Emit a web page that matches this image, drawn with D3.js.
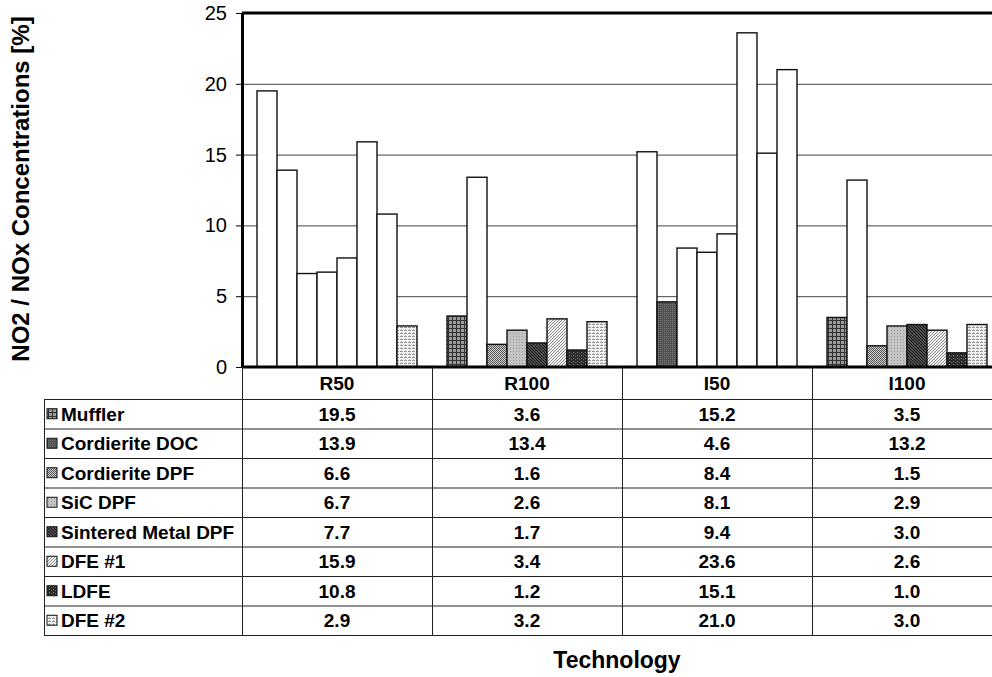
<!DOCTYPE html>
<html>
<head>
<meta charset="utf-8">
<script src="https://cdn.jsdelivr.net/npm/d3@7"></script>
<style>
  body { margin: 0; background: #fff; }
  svg { display: block; font-family: "Liberation Sans", Arial, sans-serif; }
</style>
</head>
<body>
<svg id="chart" width="992" height="677"></svg>
<script>
// Technology groups on the x axis
var categories = ['R50', 'R100', 'I50', 'I100'];
// Series (one bar per series inside each group)
var seriesNames = ['Muffler', 'Cordierite DOC', 'Cordierite DPF', 'SiC DPF',
  'Sintered Metal DPF', 'DFE #1', 'LDFE', 'DFE #2'];
// Values per series, in the order of categories
var muffler = [19.5, 3.6, 15.2, 3.5];
var cordieriteDoc = [13.9, 13.4, 4.6, 13.2];
var cordieriteDpf = [6.6, 1.6, 8.4, 1.5];
var sicDpf = [6.7, 2.6, 8.1, 2.9];
var sinteredDpf = [7.7, 1.7, 9.4, 3.0];
var dfe1 = [15.9, 3.4, 23.6, 2.6];
var ldfe = [10.8, 1.2, 15.1, 1.0];
var dfe2 = [2.9, 3.2, 21.0, 3.0];
var seriesValues = [muffler, cordieriteDoc, cordieriteDpf, sicDpf, sinteredDpf, dfe1, ldfe, dfe2];
var yTicks = [0, 5, 10, 15, 20, 25];

var svg = d3.select('#chart');
var defs = svg.append('defs');

// Fill patterns, one per series (Excel style)
function makePattern(id, w, h, bg, draw) {
  var p = defs.append('pattern').attr('id', id)
    .attr('patternUnits', 'userSpaceOnUse')
    .attr('width', w).attr('height', h);
  p.append('rect').attr('width', w).attr('height', h).attr('fill', bg);
  draw(p);
}
makePattern('p0', 4, 4, '#9a9a9a', function(p) {
  p.append('rect').attr('width', 4).attr('height', 1).attr('fill', '#333');
  p.append('rect').attr('width', 1).attr('height', 4).attr('fill', '#333');
});
makePattern('p1', 2, 2, '#505050', function(p) {
  p.append('rect').attr('width', 1).attr('height', 1).attr('fill', '#7a7a7a');
});
makePattern('p2', 2, 2, '#d0d0d0', function(p) {
  p.append('rect').attr('width', 1).attr('height', 1).attr('fill', '#555');
  p.append('rect').attr('x', 1).attr('y', 1).attr('width', 1).attr('height', 1).attr('fill', '#555');
});
makePattern('p3', 3, 3, '#c4c4c4', function(p) {
  p.append('rect').attr('width', 1).attr('height', 1).attr('fill', '#9a9a9a');
});
makePattern('p4', 3, 3, '#6a6a6a', function(p) {
  p.append('path').attr('d', 'M0,0L3,3M-1,2L1,4M2,-1L4,1').attr('stroke', '#111').attr('stroke-width', 1.2);
});
makePattern('p5', 3, 3, '#f4f4f4', function(p) {
  p.append('path').attr('d', 'M0,3L3,0M-1,1L1,-1M2,4L4,2').attr('stroke', '#8a8a8a').attr('stroke-width', 1);
});
makePattern('p6', 4, 3, '#2a2a2a', function(p) {
  p.append('rect').attr('x', 1).attr('y', 1).attr('width', 1).attr('height', 1).attr('fill', '#888');
  p.append('rect').attr('x', 3).attr('y', 2).attr('width', 1).attr('height', 1).attr('fill', '#666');
});
makePattern('p7', 4, 3, '#f2f2f2', function(p) {
  p.append('rect').attr('width', 3).attr('height', 1).attr('fill', '#999');
  p.append('rect').attr('x', 1).attr('y', 2).attr('width', 1).attr('height', 1).attr('fill', '#bbb');
});

var plot = { left: 242, right: 1002, top: 13, bottom: 367 };

var x = d3.scaleBand().domain(categories).range([plot.left, plot.right]);
var xBar = d3.scaleBand().domain(seriesNames).range([0, x.bandwidth()])
  .paddingInner(0).paddingOuter(0.75);
var y = d3.scaleLinear().domain([0, 25]).range([plot.bottom, plot.top]);

// Gridlines
svg.append('g').selectAll('line').data(yTicks.filter(function(t) { return t > 0 && t < 25; }))
  .enter().append('line')
  .attr('x1', plot.left).attr('x2', plot.right)
  .attr('y1', function(d) { return y(d) + 0.5; }).attr('y2', function(d) { return y(d) + 0.5; })
  .attr('stroke', '#444').attr('stroke-width', 1);

// Bars; tall bars were rendered hollow in the original
var bars = [];
seriesValues.forEach(function(vals, si) {
  vals.forEach(function(v, ci) {
    bars.push({ series: seriesNames[si], si: si, cat: categories[ci], value: v });
  });
});
svg.append('g').selectAll('rect').data(bars).enter().append('rect')
  .attr('x', function(d) { return x(d.cat) + xBar(d.series); })
  .attr('y', function(d) { return y(d.value); })
  .attr('width', xBar.bandwidth())
  .attr('height', function(d) { return y(0) - y(d.value); })
  .attr('fill', function(d) { return d.value > 5 ? '#fff' : 'url(#p' + d.si + ')'; })
  .attr('stroke', '#111').attr('stroke-width', 1.4);

// Frame: top and left borders, baseline
svg.append('line').attr('x1', plot.left).attr('x2', plot.right)
  .attr('y1', plot.top).attr('y2', plot.top).attr('stroke', '#000').attr('stroke-width', 3);

var yAxis = d3.axisLeft(y).tickValues(yTicks).tickSize(6).tickSizeOuter(0).tickPadding(9);
var gy = svg.append('g').attr('transform', 'translate(' + plot.left + ',0)').call(yAxis);
gy.select('.domain').attr('stroke', '#000').attr('stroke-width', 3);
gy.selectAll('.tick line').attr('stroke', '#000');
gy.selectAll('.tick text').attr('font-size', 20).attr('fill', '#000')
  .attr('font-family', '"Liberation Sans", Arial, sans-serif');

svg.append('line').attr('x1', plot.left).attr('x2', plot.right)
  .attr('y1', plot.bottom).attr('y2', plot.bottom).attr('stroke', '#000').attr('stroke-width', 3);

// Data table
var tableLeft = 44, headerBottom = 399, rowH = 29.5;
var rowY = function(i) { return headerBottom + i * rowH; };
var tableBottom = rowY(seriesNames.length);
var tg = svg.append('g').attr('stroke', '#222').attr('stroke-width', 1);
// horizontal lines
d3.range(seriesNames.length + 1).forEach(function(i) {
  tg.append('line').attr('x1', tableLeft).attr('x2', plot.right)
    .attr('y1', rowY(i) + 0.5).attr('y2', rowY(i) + 0.5);
});
// vertical lines
tg.append('line').attr('x1', tableLeft + 0.5).attr('x2', tableLeft + 0.5)
  .attr('y1', headerBottom).attr('y2', tableBottom);
categories.forEach(function(c, i) {
  var xx = x(c) + 0.5;
  tg.append('line').attr('x1', xx).attr('x2', xx).attr('y1', plot.bottom).attr('y2', tableBottom);
});

var fs = 19;
// header labels
svg.append('g').selectAll('text').data(categories).enter().append('text')
  .attr('x', function(d) { return x(d) + x.bandwidth() / 2; })
  .attr('y', (plot.bottom + headerBottom) / 2 + 7)
  .attr('text-anchor', 'middle').attr('font-weight', 'bold').attr('font-size', fs)
  .text(function(d) { return d; });

// rows
seriesNames.forEach(function(name, si) {
  var cy = rowY(si) + rowH / 2 + 7;
  var row = svg.append('g');
  row.append('rect').attr('x', 47).attr('y', cy - 12).attr('width', 10).attr('height', 10)
    .attr('fill', 'url(#p' + si + ')').attr('stroke', '#111').attr('stroke-width', 1);
  row.append('text').attr('x', 61).attr('y', cy)
    .attr('font-weight', 'bold').attr('font-size', fs).text(name);
  row.selectAll('text.v').data(seriesValues[si]).enter().append('text').attr('class', 'v')
    .attr('x', function(d, ci) { return x(categories[ci]) + x.bandwidth() / 2; })
    .attr('y', cy).attr('text-anchor', 'middle').attr('font-weight', 'bold').attr('font-size', fs)
    .text(function(d) { return d.toFixed(1); });
});

// Axis titles
svg.append('text').attr('transform', 'translate(29,' + 189 + ') rotate(-90)')
  .attr('text-anchor', 'middle').attr('font-weight', 'bold').attr('font-size', 24)
  .text('NO2 / NOx Concentrations [%]');
svg.append('text').attr('x', 617).attr('y', 668)
  .attr('text-anchor', 'middle').attr('font-weight', 'bold').attr('font-size', 23)
  .text('Technology');
</script>
</body>
</html>
